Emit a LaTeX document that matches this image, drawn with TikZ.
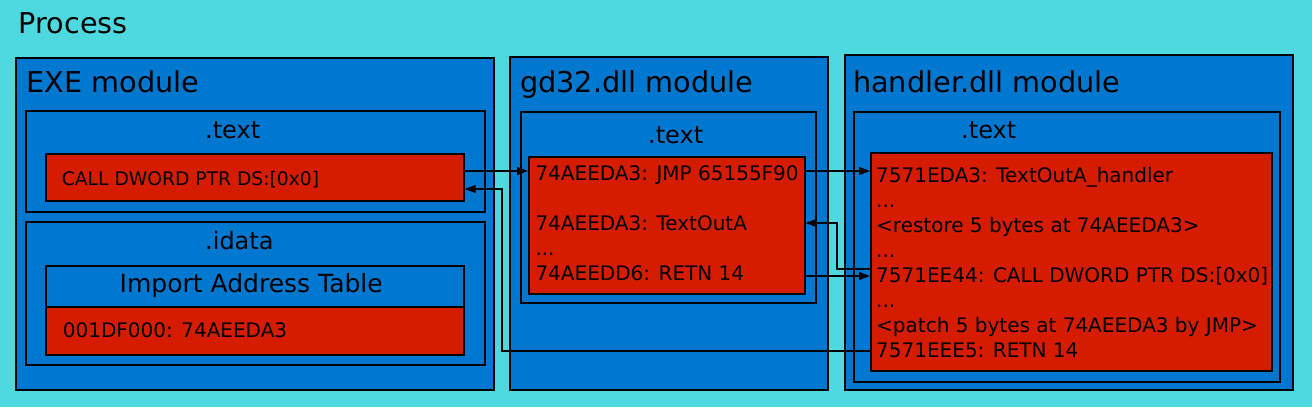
\documentclass[tikz,border=0pt]{standalone}
\usepackage{fontspec}
\setmainfont{DejaVu Sans}
\usetikzlibrary{arrows.meta}

\definecolor{procbg}{RGB}{77,217,223}
\definecolor{modblue}{RGB}{0,120,208}
\definecolor{codered}{RGB}{214,28,0}

\tikzset{
    anybox/.style={draw=black, line width=1.6pt, inner sep=0pt, anchor=north west},
    modbox/.style={anybox, fill=modblue},
    codebox/.style={anybox, fill=codered},
    txt/.style={anchor=base west, inner sep=0pt, text=black},
    bigtxt/.style={txt, font=\fontsize{28.7}{34}\selectfont},
    sectxt/.style={txt, font=\fontsize{24}{29}\selectfont},
    codetxt/.style={txt, font=\fontsize{20}{25}\selectfont},
    link/.style={draw=black, line width=1.3pt, -{Triangle[length=11pt, width=8pt]}}
}

\begin{document}
\begin{tikzpicture}[x=1pt, y=-1pt]
    \fill[procbg] (0,0) rectangle (1312,407);
    \node[bigtxt] (proc_title) at (18.5, 33) {Process};

    % EXE module
    \begin{scope}
        \node[modbox, minimum width=478, minimum height=332] (exe) at (15, 57) {};
        \node[bigtxt] (exe_title) at (26.5, 92) {EXE module};
        \node[modbox, minimum width=459, minimum height=101] (exe_text) at (25, 110) {};
        \node[sectxt] (exe_text_title) at (205, 138) {.text};
        \node[codebox, minimum width=418, minimum height=47] (exe_call) at (45, 153) {};
        \node[txt, font=\fontsize{18.7}{23}\selectfont] (exe_call_txt) at (61.7, 185) {CALL DWORD PTR DS:[0x0]};
        \node[modbox, minimum width=459, minimum height=143] (exe_idata) at (25, 221) {};
        \node[sectxt] (exe_idata_title) at (205, 249) {.idata};
        \node[modbox, minimum width=418, minimum height=41] (iat_head) at (45, 265) {};
        \node[txt, font=\fontsize{25}{30}\selectfont] (iat_head_txt) at (119.5, 292.7) {Import Address Table};
        \node[codebox, minimum width=418, minimum height=48] (iat_entry) at (45, 306) {};
        \node[codetxt] (iat_entry_txt) at (62.7, 337.7) {001DF000: 74AEEDA3};
    \end{scope}

    % gd32.dll module
    \begin{scope}
        \node[modbox, minimum width=318, minimum height=333] (gd) at (509, 56) {};
        \node[bigtxt] (gd_title) at (520, 92) {gd32.dll module};
        \node[modbox, minimum width=295, minimum height=191] (gd_text) at (520, 111) {};
        \node[sectxt] (gd_text_title) at (648, 143) {.text};
        \node[codebox, minimum width=276, minimum height=137] (gd_code) at (528, 156) {};
        \node[codetxt] (gd_jmp) at (535.3, 180) {74AEEDA3: JMP 65155F90};
        \node[codetxt] (gd_entry) at (535.3, 230) {74AEEDA3: TextOutA};
        \node[codetxt] (gd_dots) at (535.3, 255) {...};
        \node[codetxt] (gd_retn) at (535.3, 280) {74AEEDD6: RETN 14};
    \end{scope}

    % handler.dll module
    \begin{scope}
        \node[modbox, minimum width=448, minimum height=335] (hd) at (844, 54) {};
        \node[bigtxt] (hd_title) at (853, 92) {handler.dll module};
        \node[modbox, minimum width=426, minimum height=270] (hd_text) at (853, 111) {};
        \node[sectxt] (hd_text_title) at (961, 138) {.text};
        \node[codebox, minimum width=401, minimum height=218] (hd_code) at (870, 152) {};
        \node[codetxt] (hd_line1) at (876, 182.7) {7571EDA3: TextOutA\_handler};
        \node[codetxt] (hd_line2) at (876, 207.7) {...};
        \node[codetxt] (hd_line3) at (876, 232.6) {<restore 5 bytes at 74AEEDA3>};
        \node[codetxt] (hd_line4) at (876, 257.5) {...};
        \node[codetxt] (hd_line5) at (876, 282.4) {7571EE44: CALL DWORD PTR DS:[0x0]};
        \node[codetxt] (hd_line6) at (876, 307.3) {...};
        \node[codetxt] (hd_line7) at (876, 332.3) {<patch 5 bytes at 74AEEDA3 by JMP>};
        \node[codetxt] (hd_line8) at (876, 357.3) {7571EEE5: RETN 14};
    \end{scope}

    % connectors
    \coordinate (ret_bend) at (502, 189);
    \coordinate (call_bend) at (837, 223);
    \path[link] (exe_call.east |- 0,171) -- (gd_code.west |- 0,171);
    \path[link] (gd_code.east |- 0,171) -- (hd_code.west |- 0,171);
    \path[link] (hd_code.west |- 0,269) -| (call_bend) -- (gd_code.east |- call_bend);
    \path[link] (gd_code.east |- 0,276) -- (hd_code.west |- 0,276);
    \path[link] (hd_code.west |- 0,351) -| (ret_bend) -- (exe_call.east |- ret_bend);
\end{tikzpicture}
\end{document}
